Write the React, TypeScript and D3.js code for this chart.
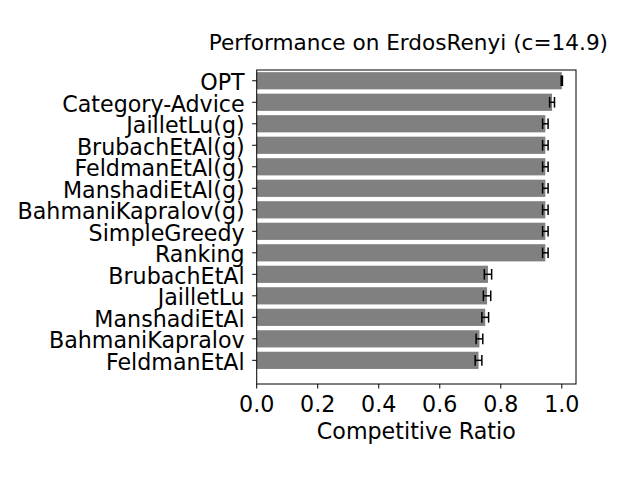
import React from "react";
import * as d3 from "d3";

const methods = [
  "OPT",
  "Category-Advice",
  "JailletLu(g)",
  "BrubachEtAl(g)",
  "FeldmanEtAl(g)",
  "ManshadiEtAl(g)",
  "BahmaniKapralov(g)",
  "SimpleGreedy",
  "Ranking",
  "BrubachEtAl",
  "JailletLu",
  "ManshadiEtAl",
  "BahmaniKapralov",
  "FeldmanEtAl",
];
const ratios = [1.0, 0.968, 0.946, 0.946, 0.946, 0.946, 0.946, 0.946, 0.946, 0.758, 0.755, 0.749, 0.730, 0.727];
const errors = [0.002, 0.008, 0.009, 0.009, 0.009, 0.009, 0.009, 0.009, 0.009, 0.012, 0.012, 0.011, 0.011, 0.011];
const xTicks = [0, 0.2, 0.4, 0.6, 0.8, 1.0];

const W = 640;
const H = 480;
const left = 256.7;
const right = 576;
const top = 70;
const bottom = 384;
const font = "DejaVu Sans, sans-serif";

export default function App() {
  const x = d3.scaleLinear().domain([0, 1.0465]).range([left, right]);
  const y = d3.scaleLinear().domain([-0.5, 14.1]).range([top, bottom]);
  const bh = (y(1) - y(0)) * 0.8;
  const cap = 5.3;

  return (
    <svg width={W} height={H} style={{ position: "absolute", left: 0, top: 0, background: "#fff" }}>
      <text x={408.4} y={49.5} textAnchor="middle" fontFamily={font} fontSize={21.6} fill="#000">
        Performance on ErdosRenyi (c=14.9)
      </text>

      {methods.map((m, i) => (
        <g key={m}>
          <rect x={x(0)} y={y(i) - bh / 2} width={x(ratios[i]) - x(0)} height={bh} fill="#808080" />
          <line x1={x(ratios[i] - errors[i])} x2={x(ratios[i] + errors[i])} y1={y(i)} y2={y(i)} stroke="#000" strokeWidth={1.5} />
          <line x1={x(ratios[i] - errors[i])} x2={x(ratios[i] - errors[i])} y1={y(i) - cap} y2={y(i) + cap} stroke="#000" strokeWidth={1.5} />
          <line x1={x(ratios[i] + errors[i])} x2={x(ratios[i] + errors[i])} y1={y(i) - cap} y2={y(i) + cap} stroke="#000" strokeWidth={1.5} />
          <line x1={left - 4.5} x2={left} y1={y(i)} y2={y(i)} stroke="#000" strokeWidth={1} />
          <text x={left - 12} y={y(i)} dy="0.42em" textAnchor="end" fontFamily={font} fontSize={22.2} fill="#000">
            {m}
          </text>
        </g>
      ))}

      {xTicks.map((t) => (
        <g key={t}>
          <line x1={x(t)} x2={x(t)} y1={bottom} y2={bottom + 4.5} stroke="#000" strokeWidth={1} />
          <text x={x(t)} y={411.7} textAnchor="middle" fontFamily={font} fontSize={22.2} fill="#000">
            {t.toFixed(1)}
          </text>
        </g>
      ))}

      <rect x={left} y={top} width={right - left} height={bottom - top} fill="none" stroke="#000" strokeWidth={1} />

      <text x={(left + right) / 2} y={439} textAnchor="middle" fontFamily={font} fontSize={22.2} fill="#000">
        Competitive Ratio
      </text>
    </svg>
  );
}
